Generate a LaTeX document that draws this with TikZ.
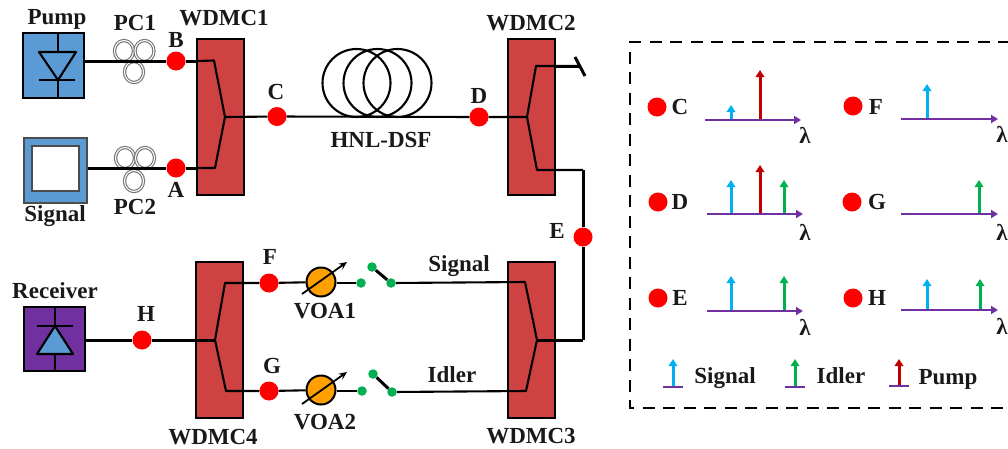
\documentclass[tikz,border=0pt]{standalone}
\usepackage{fontspec}
\setmainfont{Liberation Serif}
\usetikzlibrary{arrows.meta}
\definecolor{wdmred}{HTML}{CF4242}
\definecolor{srcblue}{HTML}{5B9BD5}
\definecolor{rxpurple}{HTML}{7030A0}
\definecolor{sigblue}{HTML}{00B0F0}
\definecolor{idlegreen}{HTML}{00B050}
\definecolor{pumpred}{HTML}{C00000}
\definecolor{dotgreen}{HTML}{00B050}
\definecolor{voaorange}{HTML}{FFA000}
\tikzset{
  lbl/.style={inner sep=0pt,font=\fontsize{23}{25}\selectfont\bfseries,text=black!90},
  wdm/.style={draw=black,fill=wdmred,line width=2pt,minimum width=47pt,minimum height=156pt,inner sep=0pt},
  fib/.style={draw=black,line width=2.1pt,line join=round},
  fibthick/.style={draw=black,line width=3pt,line join=round},
  rdot/.style={circle,fill=red,minimum size=19pt,inner sep=0pt},
  gdot/.style={circle,fill=dotgreen,minimum size=9.5pt,inner sep=0pt},
  voa/.style={circle,draw=black,fill=voaorange,line width=2pt,minimum size=29pt,inner sep=0pt},
  coil/.style={ellipse,draw=black!55,double=white,double distance=1.1pt,line width=1.1pt,minimum width=19pt,minimum height=21pt,inner sep=0pt},
  fibcoil/.style={circle,draw=black,line width=2.1pt,minimum size=68pt,inner sep=0pt},
  axisline/.style={draw=rxpurple,line width=2.6pt,-{Triangle[length=7pt,width=8pt]}},
  sigline/.style={draw=sigblue,line width=3pt,-{Triangle[length=7pt,width=8.5pt]}},
  idleline/.style={draw=idlegreen,line width=3pt,-{Triangle[length=7pt,width=8.5pt]}},
  pumpline/.style={draw=pumpred,line width=3pt,-{Triangle[length=7pt,width=8.5pt]}},
  baseline/.style={draw=rxpurple,line width=2.6pt},
}
\usetikzlibrary{shapes.geometric}
\begin{document}
\begin{tikzpicture}[x=1pt,y=-1pt]
\useasboundingbox (0,0) rectangle (1008,448);
% WDM couplers
\node[wdm] (w1) at (220.5,117) {};
\node[wdm] (w2) at (531.5,117) {};
\node[wdm] (w3) at (531.5,339.5) {};
\node[wdm] (w4) at (219.5,339.5) {};
% sources and receiver
\node[draw=black,fill=srcblue,line width=2pt,minimum width=61pt,minimum height=65pt,inner sep=0pt] (pump) at (53.5,65.5) {};
\node[draw=black!70,fill=srcblue,line width=1.2pt,minimum width=63pt,minimum height=65pt,inner sep=0pt] (sig) at (55.5,170.5) {};
\node[draw=black!70,fill=white,line width=1.2pt,minimum width=47pt,minimum height=45pt,inner sep=0pt] (sigin) at (55.5,168.5) {};
\node[draw=black,fill=rxpurple,line width=2pt,minimum width=61pt,minimum height=64pt,inner sep=0pt] (rx) at (54.5,339) {};
% pump diode
\draw[fib] (58,33)--(58,52) (58,80)--(58,98);
\draw[fib] (39,52)--(76,52)--(58,80)--cycle;
\draw[fib] (39,80)--(75,80);
% receiver diode
\draw[fib] (55,307)--(55,326) (55,354)--(55,372);
\draw[fib,fill=srcblue] (55,326)--(73,354)--(37,354)--cycle;
\draw[fib] (37,326)--(73,326);
% coordinates
\coordinate (b1) at (197,61);
\coordinate (a1) at (197,168);
\coordinate (k1) at (214,60.5);
\coordinate (k2) at (215,168);
\coordinate (k3) at (225,117);
\coordinate (c2) at (527,117);
\coordinate (u2) at (536,66);
\coordinate (l2) at (537,170);
\coordinate (end2) at (580,66);
\coordinate (t1) at (575,57);
\coordinate (t2) at (585,76);
\coordinate (e1) at (583,170);
\coordinate (e2) at (583,340);
\coordinate (c3) at (537,340);
\coordinate (u3) at (525,282);
\coordinate (l3) at (526,391);
\coordinate (c4) at (215,340);
\coordinate (u4) at (225,283);
\coordinate (l4) at (226,391);
% red monitor points
\node[rdot] (B) at (176,61) {};
\node[rdot] (A) at (176,168) {};
\node[rdot] (C) at (277,116.5) {};
\node[rdot] (D) at (479,117) {};
\node[rdot] (E) at (583,237) {};
\node[rdot] (F) at (269,283) {};
\node[rdot] (G) at (269,391) {};
\node[rdot] (H) at (142,340) {};
% polarization controllers
\node[coil] (pc1a) at (124,51) {};
\node[coil] (pc1b) at (144.5,51) {};
\node[coil] (pc1c) at (134,72) {};
\node[coil] (pc2a) at (125,158) {};
\node[coil] (pc2b) at (145,158) {};
\node[coil] (pc2c) at (134,181) {};
% fibre spool
\node[fibcoil] (s1) at (356.5,83) {};
\node[fibcoil] (s2) at (377.5,83) {};
\node[fibcoil] (s3) at (397.5,83) {};
% VOAs and switches
\node[gdot] (g1) at (361,283) {};
\node[gdot] (g2) at (372,267) {};
\node[gdot] (g3) at (391,283) {};
\node[gdot] (g4) at (362,391) {};
\node[gdot] (g5) at (373,374) {};
\node[gdot] (g6) at (392,392) {};
% connectors
\draw[fibthick] (pump.east |- B) -- (B) -- (b1);
\draw[fibthick] (sig.east |- A) -- (A) -- (a1);
\draw[fib] (b1) -- (k1) -- (k3) -- (k2) -- (a1);
\draw[fib] (k3) -- (C) -- (D) -- (c2);
\draw[fib] (c2) -- (u2) -- (end2);
\draw[fibthick] (w2.east |- end2) -- (end2);
\draw[fibthick] (t1) -- (t2);
\draw[fib] (c2) -- (l2) -- (e1);
\draw[fibthick] (e1) -- (E) -- (e2);
\draw[fibthick] (e2) -- (c3);
\draw[fib] (c3) -- (u3) -- (g3);
\draw[fib] (c3) -- (l3) -- (g6);
\draw[fibthick] (g2) -- (g3);
\draw[fibthick] (g5) -- (g6);
\draw[fibthick] (rx.east |- H) -- (H) -- (c4);
\draw[fib] (c4) -- (u4) -- (F);
\draw[fib] (c4) -- (l4) -- (G);
\node[voa] (v1) at (321,282) {};
\node[voa] (v2) at (321,390) {};
\draw[fib] (F) -- (v1);
\draw[fib] (G) -- (v2);
\draw[fib] (v1.east |- g1) -- (g1);
\draw[fib] (v2.east |- g4) -- (g4);
\coordinate (v1a) at (302,294); \coordinate (v1b) at (347,262);
\coordinate (v2a) at (302,404); \coordinate (v2b) at (347,372);
\draw[line width=1.8pt,-{Stealth[length=8pt,width=7pt]}] (v1a) -- (v1b);
\draw[line width=1.8pt,-{Stealth[length=8pt,width=7pt]}] (v2a) -- (v2b);
% labels
\node[lbl] (tPump) at (57,19) {Pump};
\node[lbl] (tPC1) at (135,23) {PC1};
\node[lbl] (tB) at (176,40) {B};
\node[lbl] (tW1) at (224,18) {WDMC1};
\node[lbl] (tC) at (276,92) {C};
\node[lbl] (tA) at (176,190) {A};
\node[lbl] (tPC2) at (135,207) {PC2};
\node[lbl] (tSig) at (55,216) {Signal};
\node[lbl] (tHNL) at (381,140) {HNL-DSF};
\node[lbl] (tD) at (479,96) {D};
\node[lbl] (tW2) at (531,23) {WDMC2};
\node[lbl] (tE) at (557,231) {E};
\node[lbl] (tS) at (459,266) {Signal};
\node[lbl] (tI) at (452,375) {Idler};
\node[lbl] (tF) at (270,257) {F};
\node[lbl] (tG) at (272,366) {G};
\node[lbl] (tH) at (146,314) {H};
\node[lbl] (tR) at (55,291) {Receiver};
\node[lbl] (tV1) at (325,311) {VOA1};
\node[lbl] (tV2) at (325,422) {VOA2};
\node[lbl] (tW4) at (213,437) {WDMC4};
\node[lbl] (tW3) at (531,436) {WDMC3};
% dashed panel
\draw[black,line width=2.6pt,dash pattern=on 12pt off 8.5pt] (1010,42) -- (630,42) -- (630,408) -- (1010,408);
% panel C
\node[rdot] (pC) at (657,107) {}; \node[lbl] (lC) at (680,107) {C};
\coordinate (aC0) at (705,120); \coordinate (aC1) at (801,120);
\draw[sigline] (731,120) -- (731,105);
\draw[pumpline] (760,120) -- (760,70);
\draw[axisline] (aC0) -- (aC1); \node[lbl] (lamC) at (805,135) {λ};
% panel F
\node[rdot] (pF) at (853,106) {}; \node[lbl] (lF) at (876,107) {F};
\coordinate (aF0) at (901,119); \coordinate (aF1) at (998,119);
\draw[sigline] (927,119) -- (927,84);
\draw[axisline] (aF0) -- (aF1); \node[lbl] (lamF) at (1002,134) {λ};
% panel D
\node[rdot] (pD) at (658,202) {}; \node[lbl] (lD) at (680,202) {D};
\coordinate (aD0) at (707,214); \coordinate (aD1) at (803,214);
\draw[sigline] (731,214) -- (731,180);
\draw[pumpline] (760,214) -- (760,165);
\draw[idleline] (784,214) -- (784,180);
\draw[axisline] (aD0) -- (aD1); \node[lbl] (lamD) at (805,232) {λ};
% panel G
\node[rdot] (pG) at (852,202) {}; \node[lbl] (lG) at (877,202) {G};
\coordinate (aG0) at (901,214); \coordinate (aG1) at (998,214);
\draw[idleline] (979,214) -- (979,180);
\draw[axisline] (aG0) -- (aG1); \node[lbl] (lamG) at (1002,232) {λ};
% panel E
\node[rdot] (pE) at (658,298) {}; \node[lbl] (lE) at (680,298) {E};
\coordinate (aE0) at (707,311); \coordinate (aE1) at (803,311);
\draw[sigline] (731,311) -- (731,276);
\draw[idleline] (784,311) -- (784,276);
\draw[axisline] (aE0) -- (aE1); \node[lbl] (lamE) at (805,327) {λ};
% panel H
\node[rdot] (pH) at (853,298) {}; \node[lbl] (lH) at (877,298) {H};
\coordinate (aH0) at (901,310); \coordinate (aH1) at (998,310);
\draw[sigline] (927,310) -- (927,279);
\draw[idleline] (980,310) -- (980,279);
\draw[axisline] (aH0) -- (aH1); \node[lbl] (lamH) at (1002,326) {λ};
% legend
\draw[sigline] (673,387) -- (673,359); \draw[baseline] (663,387) -- (683,387);
\node[lbl] (kS) at (725,378) {Signal};
\draw[idleline] (795,387) -- (795,359); \draw[baseline] (785,387) -- (805,387);
\node[lbl] (kI) at (841,376) {Idler};
\draw[pumpline] (899,386) -- (899,359); \draw[baseline] (889,386) -- (909,386);
\node[lbl] (kP) at (948,379) {Pump};
\end{tikzpicture}
\end{document}
